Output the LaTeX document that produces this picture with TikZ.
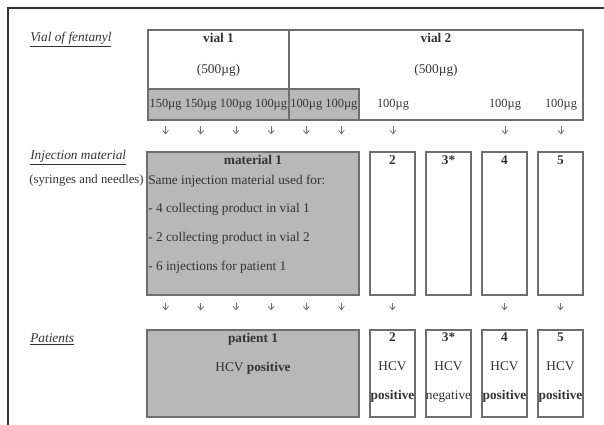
\documentclass[tikz,border=0pt]{standalone}
\usepackage{fontspec}
\setmainfont{Liberation Serif}
\usepackage{tikz}
\usetikzlibrary{arrows.meta,positioning,calc}
\definecolor{scanInk}{HTML}{333333}
\definecolor{scanLine}{HTML}{6E6E6E}
\definecolor{scanGrey}{HTML}{B8B8B8}
\tikzset{
  box/.style={draw=scanLine, line width=0.8pt, inner sep=0pt, minimum width=#1},
  box/.default={33.75pt},
  greybox/.style={box=#1, fill=scanGrey},
  greybox/.default={159pt},
  rowhead/.style={font=\itshape, text=scanInk, anchor=west, inner sep=0pt},
  txt/.style={text=scanInk, inner sep=0pt, align=center},
}

\begin{document}
\begin{tikzpicture}[x=0.75pt, y=-0.75pt,
  dose/.style={txt, font=\fontsize{9.3}{11}\selectfont, minimum width=26.4pt, minimum height=23.25pt},
  arr/.style={draw=scanLine, line width=0.6pt, -{Straight Barb[length=2.6pt,width=4.2pt]}},
  >={Straight Barb[length=2.6pt]}]
\useasboundingbox (0,0) rectangle (604,425);
% frame (only top and left survive)
\draw[scanInk, line width=1.5pt] (8,425) -- (8,8) -- (604,8);
% row heads
\node[rowhead] (hVial) at (30,40) {\underline{Vial of fentanyl}};
\node[rowhead] (hInj) at (30,158) {\underline{Injection material}};
\node[txt, anchor=east, font=\fontsize{9.6}{11}\selectfont] (hSyr) at (144,180) {(syringes and needles)};
\node[rowhead] (hPat) at (30,339) {\underline{Patients}};
% vials
\node[box, fill=scanGrey, minimum width=158.25pt, minimum height=23.25pt] (band) at (253.5,104.5) {};
\node[box=105.75pt, minimum height=67.5pt] (vial1) at (218.5,75) {};
\node[box=220.5pt, minimum height=67.5pt] (vial2) at (436,75) {};
\node[txt] at (218.5,55) {\textbf{vial 1}\\[11.25pt](500µg)};
\node[txt] at (436,55) {\textbf{vial 2}\\[11.25pt](500µg)};
\foreach \n/\x/\k in {d1/165.6/150,d2/200.8/150,d3/235.9/100,d4/271.1/100,d5/306.3/100,d6/341.4/100,
  d7/393/100,d8/505/100,d9/561/100}
  \node[dose] (\n) at (\x,104.5) {\k µg};
% injection material
\node[greybox, minimum height=107.25pt] (mat1) at (253,223.5) {};
\node[txt, anchor=north] at (mat1.north) [yshift=-3pt] {\textbf{material 1}};
\node[txt, align=left, anchor=west] (matText) at (148,224) {Same injection material used for:\\[9.5pt]
  - 4 collecting product in vial 1\\[9.5pt]- 2 collecting product in vial 2\\[9.5pt]- 6 injections for patient 1};
\foreach \n/\x/\k in {inj2/392.5/2,inj3/448.5/3*,inj4/504.5/4,inj5/560.5/5} {
  \node[box, minimum height=107.25pt] (\n) at (\x,223.5) {};
  \node[txt, anchor=north, yshift=-3pt] at (\n.north) {\textbf{\k}};
}
% patients
\node[greybox, minimum height=65.25pt] (pat1) at (253,373.5) {};
\node[txt] at (253,354) {\textbf{patient 1}\\[9.75pt]HCV \textbf{positive}};
\foreach \n/\x/\k/\r in {pat2/392.5/2/\textbf{positive},pat3/448.5/3*/negative,pat4/504.5/4/\textbf{positive},pat5/560.5/5/\textbf{positive}} {
  \node[box, minimum height=65.25pt] (\n) at (\x,373.5) {};
  \node[txt] at (\x,368) {\textbf{\k}\\[9.75pt]HCV\\[9.75pt]\r};
}
% arrows
\foreach \n in {d1,d2,d3,d4,d5,d6} {
  \draw[arr, shorten <=3.75pt, shorten >=12.75pt] (\n |- vial1.south) -- (\n |- mat1.north);
  \draw[arr, shorten <=5.25pt, shorten >=14.25pt] (\n |- mat1.south) -- (\n |- pat1.north);
}
\foreach \u/\v/\w in {d7/inj2/pat2,d8/inj4/pat4,d9/inj5/pat5} {
  \draw[arr, shorten <=3.75pt, shorten >=12.75pt] (\u |- vial2.south) -- (\u |- \v.north);
  \draw[arr, shorten <=5.25pt, shorten >=14.25pt] (\v.south) -- (\w.north);
}
\end{tikzpicture}
\end{document}
